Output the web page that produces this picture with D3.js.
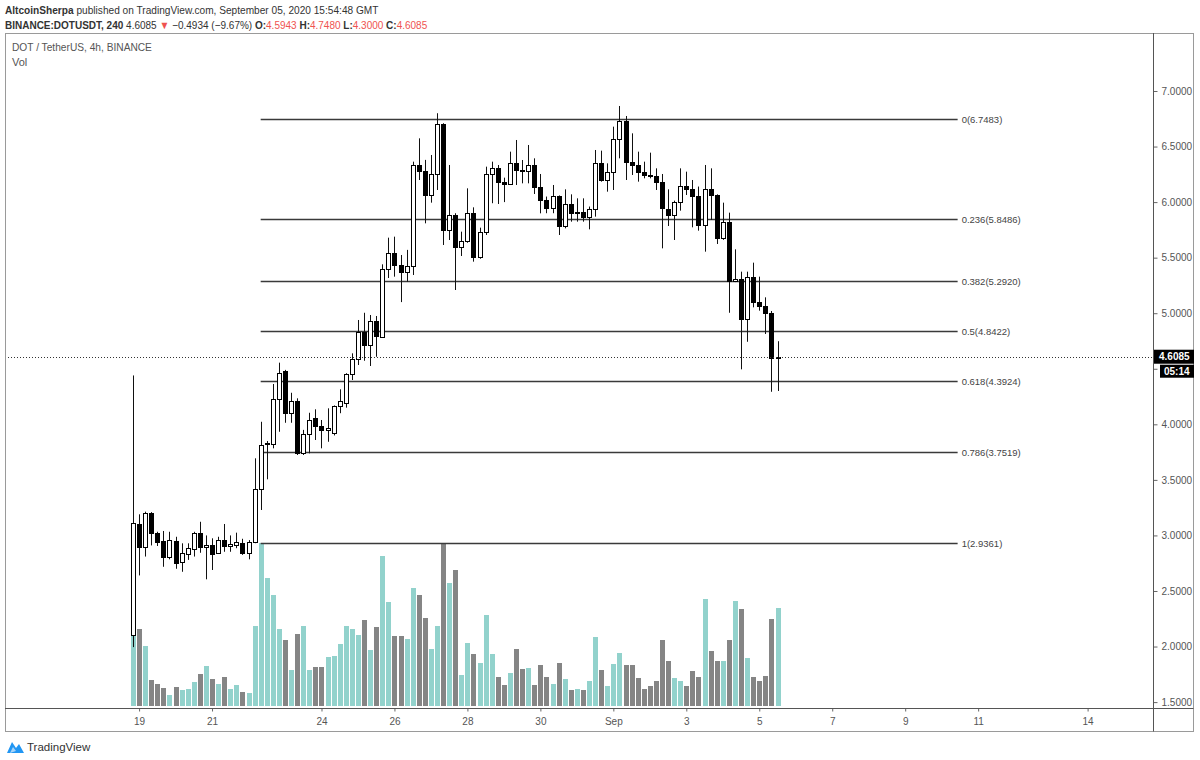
<!DOCTYPE html>
<html><head><meta charset="utf-8">
<script src="https://cdn.jsdelivr.net/npm/d3@7"></script>
<style>
body{margin:0;background:#fff}
svg{display:block}
text{font-family:"Liberation Sans",Arial,sans-serif}
</style>
</head><body><svg id="chart" width="1200" height="760"></svg>
<script>
// ---------- DATA (4h candles, DOT/USDT Binance, from 2020-08-18 20:00 UTC) ----------
const opens  = [2.10,3.10,2.893,3.199,3.019,2.952,2.803,2.952,2.758,2.83,2.875,3.019,2.893,2.91,2.845,2.958,2.905,2.914,2.929,2.839,
  2.943,3.415,3.83,3.823,4.225,4.482,4.099,4.212,3.744,3.913,4.054,3.985,3.946,3.92,4.165,4.19,4.453,4.585,4.833,4.714,
  4.933,4.79,5.395,5.545,5.434,5.374,5.425,6.334,6.283,6.064,6.253,6.703,5.749,5.884,5.599,5.653,5.905,5.503,5.734,6.253,
  6.304,6.184,6.163,6.355,6.289,6.283,6.334,6.133,6.019,5.944,6.055,5.785,5.983,5.899,5.91,5.863,5.935,6.349,6.199,6.274,
  6.565,6.733,6.364,6.334,6.274,6.244,6.238,6.184,5.935,5.884,6.004,6.145,6.115,6.055,5.794,6.115,6.064,5.674,5.824,5.293,
  5.31,4.945,5.323,5.104,5.065,5.004,4.5943];
const highs  = [4.44,3.19,3.214,3.21,3.033,3.04,3.033,2.988,2.929,2.929,3.033,3.123,3.0,2.974,2.988,3.103,3.0,3.025,2.97,2.958,
  3.694,4.023,3.85,4.363,4.555,4.49,4.284,4.234,3.95,4.104,4.135,4.039,4.144,4.17,4.315,4.46,4.639,4.939,5.004,4.984,
  4.975,5.44,5.68,5.689,5.524,5.57,6.364,6.574,6.38,6.424,6.80,6.71,6.334,5.90,5.734,6.124,5.953,5.77,6.319,6.364,
  6.334,6.22,6.454,6.559,6.379,6.514,6.394,6.253,6.05,6.154,6.06,6.115,6.07,6.034,6.034,5.96,6.469,6.463,6.349,6.679,
  6.865,6.775,6.619,6.454,6.364,6.445,6.304,6.253,6.115,6.013,6.304,6.274,6.199,6.14,6.334,6.304,6.07,5.995,5.905,5.575,
  5.374,5.374,5.455,5.329,5.143,5.02,4.748];
const lows   = [1.995,2.64,2.81,2.91,2.905,2.718,2.785,2.70,2.673,2.78,2.81,2.844,2.605,2.689,2.834,2.853,2.853,2.885,2.825,2.785,
  2.93,3.229,3.505,3.784,3.933,4.014,4.014,3.724,3.724,3.739,3.859,3.784,3.843,3.90,4.10,4.15,4.399,4.534,4.572,4.525,
  4.608,4.78,5.317,5.329,5.10,5.284,5.344,6.199,5.809,5.995,6.109,5.614,5.659,5.209,5.515,5.634,5.464,5.49,5.704,5.99,
  5.983,6.0,6.155,6.154,6.169,6.169,6.073,5.899,5.90,5.90,5.704,5.764,5.824,5.824,5.824,5.755,5.869,6.184,6.094,6.109,
  6.394,6.199,6.244,6.184,6.214,6.214,6.109,5.584,5.785,5.659,5.923,6.064,5.773,5.743,5.554,5.839,5.623,5.66,5.004,5.28,
  4.495,4.743,5.053,5.023,4.813,4.293,4.30];
const closes = [3.11,2.90,3.199,3.021,2.943,2.808,2.958,2.754,2.844,2.886,3.019,2.893,2.91,2.833,2.958,2.905,2.92,2.938,2.839,2.943,
  3.415,3.814,3.835,4.225,4.459,4.099,4.212,3.744,3.913,4.039,3.985,3.949,3.97,4.165,4.212,4.453,4.585,4.833,4.714,4.933,
  4.795,5.395,5.545,5.434,5.374,5.425,6.334,6.283,6.064,6.253,6.703,5.749,5.884,5.599,5.653,5.905,5.503,5.734,6.253,6.304,
  6.184,6.163,6.355,6.289,6.283,6.334,6.133,6.019,5.944,6.055,5.785,5.983,5.899,5.91,5.863,5.935,6.349,6.199,6.274,6.565,
  6.733,6.364,6.334,6.274,6.244,6.238,6.184,5.944,5.884,6.004,6.145,6.115,6.055,5.794,6.115,6.064,5.674,5.824,5.293,5.31,
  4.945,5.323,5.104,5.065,5.004,4.5943,4.6085];
const volumes = [83,77,60,26,22,18,11,19,16,17,24,32,40,27,22,29,17,21,14,13,
  80,163,128,111,77,66,36,72,80,36,39,39,49,50,62,80,77,71,86,56,
  79,150,104,70,70,67,118,111,88,57,80,162,123,136,31,63,52,43,91,52,
  29,21,33,57,37,38,21,41,29,22,43,27,16,17,16,25,69,36,20,42,
  53,41,41,28,17,20,25,66,45,28,25,20,35,29,107,55,45,45,66,105,
  97,48,29,25,30,87,98];

const fibRatios = [0, 0.236, 0.382, 0.5, 0.618, 0.786, 1];
const fibPrices = [6.7483, 5.8486, 5.2920, 4.8422, 4.3924, 3.7519, 2.9361];
const fibStart = "2020-08-22T08:00:00Z", fibEnd = "2020-09-10T10:30:00Z";

const priceTicks = [1.5, 2, 2.5, 3, 3.5, 4, 4.5, 5, 5.5, 6, 6.5, 7];
const dateTicks = ["2020-08-19","2020-08-21","2020-08-24","2020-08-26","2020-08-28","2020-08-30",
  "2020-09-01","2020-09-03","2020-09-05","2020-09-07","2020-09-09","2020-09-11","2020-09-14"];
const dateTickLabels = ["19","21","24","26","28","30","Sep","3","5","7","9","11","14"];

const firstBarTime = "2020-08-18T20:00:00Z";
const barHours = 4;
const lastPrice = 4.6085, countdown = "05:14";

// ---------- LAYOUT ----------
const svg = d3.select("#chart");
const frame = {left: 5, top: 33, right: 1193, bottom: 731};
const plot = {left: 5, top: 33, right: 1153, bottom: 708};

const t0 = new Date(firstBarTime);
const barTime = i => new Date(t0.getTime() + i * barHours * 3600e3);
const x = d3.scaleUtc().domain([t0, new Date("2020-09-14T00:00:00Z")]).range([133, 1087.6]);
const y = d3.scaleLinear().domain([1.5, 7]).range([702.1, 91]);
const yVol = d3.scaleLinear().domain([0, d3.max(volumes)]).range([706, 543]);

const INK = "#333";
const RED = "#ef5350";

// condense a text horizontally (via a group transform) so that it spans w pixels
function condensed(px, py, w, build) {
  const grp = svg.append("g");
  const t = grp.append("text").attr("x", 0).attr("y", 0);
  build(t);
  const len = t.node().getComputedTextLength();
  const s = len > 0 ? w / len : 1;
  grp.attr("transform", `translate(${px},${py}) scale(${s},1)`);
  return t;
}

// header
condensed(5, 14, 374, t => {
  t.attr("font-size", 11).attr("fill", INK);
  t.append("tspan").attr("font-weight", "bold").text("AltcoinSherpa");
  t.append("tspan").text(" published on TradingView.com, September 05, 2020 15:54:48 GMT");
});
condensed(5, 29, 423, t => {
  t.attr("font-size", 11).attr("fill", INK);
  t.append("tspan").attr("font-weight", "bold").text("BINANCE:DOTUSDT, 240");
  t.append("tspan").text(" 4.6085 ");
  t.append("tspan").attr("fill", RED).text("▼");
  t.append("tspan").text(" −0.4934 (−9.67%) ");
  [["O:", "4.5943"], ["H:", "4.7480"], ["L:", "4.3000"], ["C:", "4.6085"]].forEach((p, k) => {
    t.append("tspan").attr("font-weight", "bold").text((k ? " " : "") + p[0]);
    t.append("tspan").attr("fill", RED).text(p[1]);
  });
});

// frame
svg.append("rect").attr("x", frame.left + 0.5).attr("y", frame.top + 0.5)
  .attr("width", frame.right - frame.left).attr("height", frame.bottom - frame.top)
  .attr("fill", "none").attr("stroke", "#9a9a9a");

// clip
svg.append("clipPath").attr("id", "clip").append("rect")
  .attr("x", plot.left + 1).attr("y", plot.top + 1)
  .attr("width", plot.right - plot.left - 1).attr("height", plot.bottom - plot.top - 1);
const g = svg.append("g").attr("clip-path", "url(#clip)");

// legend
condensed(12, 51, 140, t => {
  t.attr("font-size", 11).attr("fill", "#555").text("DOT / TetherUS, 4h, BINANCE");
});
svg.append("text").attr("x", 12).attr("y", 66).attr("font-size", 11).attr("fill", "#555").text("Vol");

// volume bars
const idx = d3.range(opens.length);
const cx = i => Math.round(x(barTime(i)));
g.append("g").selectAll("rect").data(idx).join("rect")
  .attr("x", i => cx(i) - 2).attr("width", 5)
  .attr("y", i => yVol(volumes[i])).attr("height", i => yVol(0) - yVol(volumes[i]))
  .attr("fill", i => closes[i] >= opens[i] ? "#92d2cc" : "#858585");

// fib lines
const fg = g.append("g");
fibPrices.forEach((p, k) => {
  const yy = Math.round(y(p)) + 0.5;
  fg.append("line").attr("x1", x(new Date(fibStart))).attr("x2", x(new Date(fibEnd)))
    .attr("y1", yy).attr("y2", yy).attr("stroke", "#3a3a3a").attr("stroke-width", 1.4);
  fg.append("text").attr("x", x(new Date(fibEnd)) + 4).attr("y", yy).attr("dy", "0.35em")
    .attr("font-size", 9.5).attr("fill", "#444")
    .text(`${fibRatios[k]}(${p.toFixed(4)})`);
});

// candles
const cg = g.append("g");
idx.forEach(i => {
  const c = cx(i);
  const up = closes[i] >= opens[i];
  cg.append("line").attr("x1", c + 0.5).attr("x2", c + 0.5)
    .attr("y1", y(highs[i])).attr("y2", y(lows[i])).attr("stroke", "#111").attr("stroke-width", 1);
  const top = y(Math.max(opens[i], closes[i])), bot = y(Math.min(opens[i], closes[i]));
  cg.append("rect").attr("x", c - 1.5).attr("width", 4)
    .attr("y", Math.round(top) + 0.5).attr("height", Math.max(1, Math.round(bot) - Math.round(top)))
    .attr("fill", up ? "#fff" : "#000").attr("stroke", "#000").attr("stroke-width", 1);
});

// last price dotted line
const yl = y(lastPrice);
g.append("line").attr("x1", plot.left).attr("x2", plot.right).attr("y1", Math.round(yl) + 0.5).attr("y2", Math.round(yl) + 0.5)
  .attr("stroke", "#333").attr("stroke-dasharray", "1,2");

// right axis
const ax = svg.append("g").attr("transform", `translate(${plot.right + 0.5},0)`)
  .call(d3.axisRight(y).tickValues(priceTicks).tickFormat(d3.format(".4f")).tickSize(4).tickPadding(4));
ax.select(".domain").remove();
ax.selectAll("line").attr("stroke", "#666");
ax.selectAll("text").attr("font-size", 10).attr("fill", "#555").attr("font-family", "Liberation Sans, Arial, sans-serif");
// hide labels covered by the last-price / countdown badges
ax.selectAll(".tick").filter(d => Math.abs(y(d) - (yl + 7)) < 16).select("text").remove();
svg.append("line").attr("x1", plot.right + 0.5).attr("x2", plot.right + 0.5)
  .attr("y1", frame.top).attr("y2", frame.bottom + 0.5).attr("stroke", "#555");

// bottom axis
const bx = svg.append("g").attr("transform", `translate(0,${plot.bottom + 0.5})`)
  .call(d3.axisBottom(x).tickValues(dateTicks.map(d => new Date(d + "T00:00:00Z")))
    .tickFormat((d, k) => dateTickLabels[k]).tickSize(3).tickPadding(6));
bx.select(".domain").remove();
bx.selectAll("line").attr("stroke", "#666");
bx.selectAll("text").attr("font-size", 10).attr("fill", "#555").attr("font-family", "Liberation Sans, Arial, sans-serif");
svg.append("line").attr("x1", frame.left).attr("x2", frame.right + 0.5)
  .attr("y1", plot.bottom + 0.5).attr("y2", plot.bottom + 0.5).attr("stroke", "#555");

// price label + countdown
svg.append("rect").attr("x", plot.right + 1).attr("y", yl - 7).attr("width", frame.right - plot.right).attr("height", 14).attr("fill", "#000");
svg.append("text").attr("x", plot.right + 6).attr("y", yl).attr("dy", "0.35em").attr("font-size", 10)
  .attr("font-weight", "bold").attr("fill", "#fff").text(lastPrice.toFixed(4));
svg.append("rect").attr("x", plot.right + 7).attr("y", yl + 8).attr("width", frame.right - plot.right - 6).attr("height", 13).attr("fill", "#000");
svg.append("text").attr("x", plot.right + 11).attr("y", yl + 14.5).attr("dy", "0.35em").attr("font-size", 10)
  .attr("font-weight", "bold").attr("fill", "#fff").text(countdown);

// TradingView logo
const lgo = svg.append("g").attr("transform", "translate(7,739)");
lgo.append("path").attr("d", "M0,14 L5,3 L9,9 L12,5 L17,14 Z").attr("fill", "#2196f3");
lgo.append("path").attr("d", "M3,14 L6,8 L9,12 Z").attr("fill", "#fff").attr("opacity", 0.6);
svg.append("text").attr("x", 27).attr("y", 751).attr("font-size", 11.5).attr("fill", "#333").text("TradingView");
</script>
</body></html>
